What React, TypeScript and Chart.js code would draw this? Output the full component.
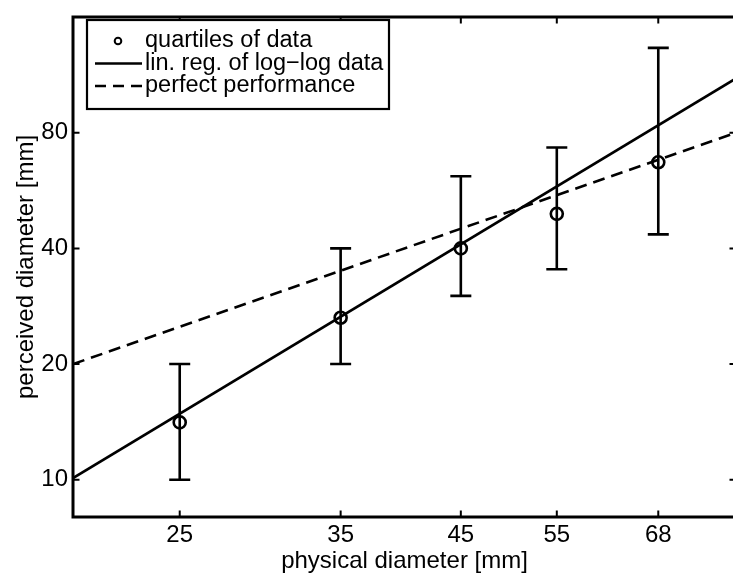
import React, { useEffect, useRef } from "react";
import { Chart, registerables } from "chart.js";

Chart.register(...registerables);

// ---- data ----
const physicalDiameters = [25, 35, 45, 55, 68];
const perceivedMedian = [14.1, 26.4, 40.0, 49.2, 67.0];
const perceivedLowerQuartile = [10.0, 20.0, 30.1, 35.3, 43.5];
const perceivedUpperQuartile = [20.0, 40.0, 61.6, 73.2, 133.0];
const regressionX = [20, 80];
const regressionY = [10.1, 110.7];
const perfectX = [20, 80];
const perfectY = [20, 80];
const xTickValues = [25, 35, 45, 55, 68];
const yTickValues = [10, 20, 40, 80];
const xRange = [20, 80];
const yRange = [8, 160];
const legendLabels = [
  "quartiles of data",
  "lin. reg. of log\u2212log data",
  "perfect performance",
];
const xTitle = "physical diameter [mm]";
const yTitle = "perceived diameter [mm]";

const FONT = '"Liberation Sans", Arial, Helvetica, sans-serif';
const FS = 24;
const LEGEND_FS = 23.5;

const matlabPlugin = {
  id: "matlabStyle",
  beforeDatasetsDraw(chart: any) {
    const { ctx, chartArea: a, scales } = chart;
    const x = scales.x;
    const y = scales.y;
    ctx.save();
    ctx.beginPath();
    ctx.rect(a.left, a.top, a.right - a.left, a.bottom - a.top);
    ctx.clip();
    ctx.strokeStyle = "#000";
    ctx.lineWidth = 2.6;
    ctx.lineCap = "butt";
    physicalDiameters.forEach((d, i) => {
      const px = x.getPixelForValue(d);
      const lo = y.getPixelForValue(perceivedLowerQuartile[i]);
      const hi = y.getPixelForValue(perceivedUpperQuartile[i]);
      ctx.beginPath();
      ctx.moveTo(px, lo);
      ctx.lineTo(px, hi);
      ctx.moveTo(px - 10.5, lo);
      ctx.lineTo(px + 10.5, lo);
      ctx.moveTo(px - 10.5, hi);
      ctx.lineTo(px + 10.5, hi);
      ctx.stroke();
    });
    ctx.restore();
  },
  afterDraw(chart: any) {
    const { ctx, chartArea: a, scales } = chart;
    const x = scales.x;
    const y = scales.y;
    ctx.save();
    // inward ticks
    ctx.strokeStyle = "#000";
    ctx.lineWidth = 2;
    const tl = 6.5;
    ctx.beginPath();
    xTickValues.forEach((v) => {
      const px = x.getPixelForValue(v);
      ctx.moveTo(px, a.bottom);
      ctx.lineTo(px, a.bottom - tl);
      ctx.moveTo(px, a.top);
      ctx.lineTo(px, a.top + tl);
    });
    yTickValues.forEach((v) => {
      const py = y.getPixelForValue(v);
      ctx.moveTo(a.left, py);
      ctx.lineTo(a.left + tl, py);
      ctx.moveTo(a.right, py);
      ctx.lineTo(a.right - tl, py);
    });
    ctx.stroke();
    // frame
    ctx.lineWidth = 3;
    ctx.strokeRect(a.left, a.top, a.right - a.left, a.bottom - a.top);

    // legend
    const bx = 87, by = 20, bw = 302, bh = 89;
    ctx.fillStyle = "#fff";
    ctx.fillRect(bx, by, bw, bh);
    ctx.lineWidth = 2.2;
    ctx.strokeRect(bx, by, bw, bh);
    const rows = [41, 63.5, 86];
    const sx0 = 95, sx1 = 142;
    // circle marker
    ctx.lineWidth = 2;
    ctx.beginPath();
    ctx.arc(118, rows[0], 3.3, 0, Math.PI * 2);
    ctx.stroke();
    // solid line
    ctx.lineWidth = 2.5;
    ctx.beginPath();
    ctx.moveTo(sx0, rows[1]);
    ctx.lineTo(sx1, rows[1]);
    ctx.stroke();
    // dashed
    ctx.setLineDash([11, 7]);
    ctx.beginPath();
    ctx.moveTo(sx0, rows[2]);
    ctx.lineTo(sx1, rows[2]);
    ctx.stroke();
    ctx.setLineDash([]);
    ctx.fillStyle = "#000";
    ctx.font = `${LEGEND_FS}px ${FONT}`;
    ctx.textBaseline = "middle";
    ctx.textAlign = "left";
    legendLabels.forEach((t, i) => ctx.fillText(t, 145, rows[i]));
    ctx.restore();
  },
};

export default function App() {
  const ref = useRef<HTMLCanvasElement | null>(null);

  useEffect(() => {
    if (!ref.current) return;
    const tickFont = { family: FONT, size: FS, lineHeight: 1 };
    const chart = new Chart(ref.current, {
      type: "scatter",
      data: {
        datasets: [
          {
            label: legendLabels[0],
            data: physicalDiameters.map((d, i) => ({ x: d, y: perceivedMedian[i] })),
            showLine: false,
            pointStyle: "circle",
            pointRadius: 6,
            pointBorderWidth: 2.6,
            pointBorderColor: "#000",
            pointBackgroundColor: "rgba(0,0,0,0)",
            order: 0,
          },
          {
            label: legendLabels[1],
            data: regressionX.map((v, i) => ({ x: v, y: regressionY[i] })),
            showLine: true,
            borderColor: "#000",
            borderWidth: 2.6,
            pointRadius: 0,
            order: 1,
          },
          {
            label: legendLabels[2],
            data: perfectX.map((v, i) => ({ x: v, y: perfectY[i] })),
            showLine: true,
            borderColor: "#000",
            borderWidth: 2.6,
            borderDash: [12, 7],
            pointRadius: 0,
            order: 2,
          },
        ],
      },
      options: {
        animation: false,
        responsive: false,
        devicePixelRatio: 1,
        layout: { padding: { top: 9, right: 14, left: 0, bottom: 0 } },
        plugins: { legend: { display: false }, tooltip: { enabled: false } },
        scales: {
          x: {
            type: "logarithmic",
            position: "bottom",
            min: xRange[0],
            max: xRange[1],
            afterBuildTicks: (s: any) => {
              s.ticks = xTickValues.map((v) => ({ value: v }));
            },
            afterFit: (s: any) => {
              s.height = 61;
            },
            grid: { display: false, drawTicks: false },
            border: { display: false },
            ticks: {
              autoSkip: false,
              maxRotation: 0,
              minRotation: 0,
              padding: 6,
              color: "#000",
              font: tickFont,
              callback: (v: any) => String(v),
            },
            title: {
              display: true,
              text: xTitle,
              color: "#000",
              font: tickFont,
              padding: { top: 0, bottom: 5 },
            },
          },
          y: {
            type: "logarithmic",
            position: "left",
            min: yRange[0],
            max: yRange[1],
            afterBuildTicks: (s: any) => {
              s.ticks = yTickValues.map((v) => ({ value: v }));
            },
            afterFit: (s: any) => {
              s.width = 73;
            },
            grid: { display: false, drawTicks: false },
            border: { display: false },
            ticks: {
              autoSkip: false,
              padding: 5,
              color: "#000",
              font: tickFont,
              callback: (v: any) => String(v),
            },
            title: {
              display: true,
              text: yTitle,
              color: "#000",
              font: tickFont,
              padding: { top: 14, bottom: 0 },
            },
          },
        },
      },
      plugins: [matlabPlugin],
    } as any);
    return () => chart.destroy();
  }, []);

  return (
    <div
      style={{
        position: "fixed",
        left: 0,
        top: 0,
        width: 733,
        height: 578,
        overflow: "hidden",
        background: "#fff",
      }}
    >
      <canvas ref={ref} width={750} height={578} style={{ display: "block" }} />
    </div>
  );
}
